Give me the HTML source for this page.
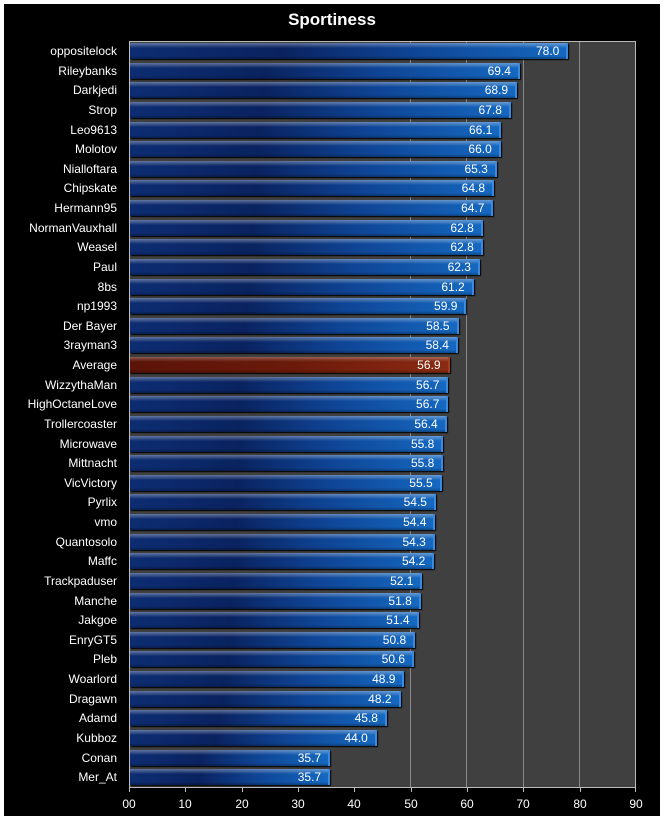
<!DOCTYPE html>
<html><head><style>
body{margin:0;background:#fff;width:664px;height:822px;position:relative;font-family:"Liberation Sans",sans-serif;overflow:hidden}
#frame{position:absolute;left:4px;top:4px;width:656px;height:812px;background:#000}
#title{position:absolute;left:0;width:664px;top:10px;text-align:center;color:#fff;font-weight:bold;font-size:17px}
#plot{position:absolute;left:129px;top:41px;width:507px;height:746px;background:#404040;border-top:1px solid #bbb;border-right:1px solid #bbb;box-sizing:border-box}
.g{position:absolute;top:0;bottom:0;width:1px;background:#8a8a8a}
#rows{position:absolute;left:0;top:41px;width:664px;height:746px;display:flex;flex-direction:column}
.r{flex:1;position:relative}
.l{position:absolute;right:547px;top:2px;color:#fff;font-size:12px;white-space:nowrap;line-height:16px}
.b{position:absolute;left:130px;top:2px;height:16px;width:calc(var(--v)*5.633px - 1px);
background:linear-gradient(to bottom,rgba(255,255,255,.35) 0,rgba(255,255,255,.15) 3px,rgba(0,0,0,0) 5px,rgba(0,0,0,0) 13px,rgba(0,0,0,.3) 16px),linear-gradient(to right,#0d2d72,#0a2360 35%,#0f4596 65%,#1568c0);box-shadow:1px 1px 1px #000;border-right:2px solid #3a8ae0;box-sizing:border-box}
.b.a{background:linear-gradient(to bottom,rgba(255,255,255,.3) 0,rgba(255,255,255,.1) 3px,rgba(0,0,0,0) 5px,rgba(0,0,0,0) 13px,rgba(0,0,0,.3) 16px),linear-gradient(to right,#5a1408,#6a1a0a 50%,#8a2a12);border-right-color:#a04020}
.b span{position:absolute;right:7px;top:1px;color:#fff;font-size:12px;line-height:15px}
.t{position:absolute;left:124px;width:5px;height:1px;background:#bbb}
#axis{position:absolute;left:129px;top:787px;width:507px;height:1px;background:#bbb}
.x{position:absolute;top:797px;color:#fff;font-size:12px;width:30px;margin-left:-15px;text-align:center}
.xt{position:absolute;top:787px;width:1px;height:5px;background:#bbb}
</style></head><body>
<div id="frame"></div>
<div id="title">Sportiness</div>
<div id="plot">
<div class="g" style="left:281px"></div><div class="g" style="left:337px"></div><div class="g" style="left:394px"></div><div class="g" style="left:450px"></div>
</div>
<div id="rows">
<div class="r"><div class="l">oppositelock</div><div class="b" style="--v:78.0"><span>78.0</span></div></div>
<div class="r"><div class="l">Rileybanks</div><div class="b" style="--v:69.4"><span>69.4</span></div></div>
<div class="r"><div class="l">Darkjedi</div><div class="b" style="--v:68.9"><span>68.9</span></div></div>
<div class="r"><div class="l">Strop</div><div class="b" style="--v:67.8"><span>67.8</span></div></div>
<div class="r"><div class="l">Leo9613</div><div class="b" style="--v:66.1"><span>66.1</span></div></div>
<div class="r"><div class="l">Molotov</div><div class="b" style="--v:66.0"><span>66.0</span></div></div>
<div class="r"><div class="l">Nialloftara</div><div class="b" style="--v:65.3"><span>65.3</span></div></div>
<div class="r"><div class="l">Chipskate</div><div class="b" style="--v:64.8"><span>64.8</span></div></div>
<div class="r"><div class="l">Hermann95</div><div class="b" style="--v:64.7"><span>64.7</span></div></div>
<div class="r"><div class="l">NormanVauxhall</div><div class="b" style="--v:62.8"><span>62.8</span></div></div>
<div class="r"><div class="l">Weasel</div><div class="b" style="--v:62.8"><span>62.8</span></div></div>
<div class="r"><div class="l">Paul</div><div class="b" style="--v:62.3"><span>62.3</span></div></div>
<div class="r"><div class="l">8bs</div><div class="b" style="--v:61.2"><span>61.2</span></div></div>
<div class="r"><div class="l">np1993</div><div class="b" style="--v:59.9"><span>59.9</span></div></div>
<div class="r"><div class="l">Der Bayer</div><div class="b" style="--v:58.5"><span>58.5</span></div></div>
<div class="r"><div class="l">3rayman3</div><div class="b" style="--v:58.4"><span>58.4</span></div></div>
<div class="r"><div class="l">Average</div><div class="b a" style="--v:56.9"><span>56.9</span></div></div>
<div class="r"><div class="l">WizzythaMan</div><div class="b" style="--v:56.7"><span>56.7</span></div></div>
<div class="r"><div class="l">HighOctaneLove</div><div class="b" style="--v:56.7"><span>56.7</span></div></div>
<div class="r"><div class="l">Trollercoaster</div><div class="b" style="--v:56.4"><span>56.4</span></div></div>
<div class="r"><div class="l">Microwave</div><div class="b" style="--v:55.8"><span>55.8</span></div></div>
<div class="r"><div class="l">Mittnacht</div><div class="b" style="--v:55.8"><span>55.8</span></div></div>
<div class="r"><div class="l">VicVictory</div><div class="b" style="--v:55.5"><span>55.5</span></div></div>
<div class="r"><div class="l">Pyrlix</div><div class="b" style="--v:54.5"><span>54.5</span></div></div>
<div class="r"><div class="l">vmo</div><div class="b" style="--v:54.4"><span>54.4</span></div></div>
<div class="r"><div class="l">Quantosolo</div><div class="b" style="--v:54.3"><span>54.3</span></div></div>
<div class="r"><div class="l">Maffc</div><div class="b" style="--v:54.2"><span>54.2</span></div></div>
<div class="r"><div class="l">Trackpaduser</div><div class="b" style="--v:52.1"><span>52.1</span></div></div>
<div class="r"><div class="l">Manche</div><div class="b" style="--v:51.8"><span>51.8</span></div></div>
<div class="r"><div class="l">Jakgoe</div><div class="b" style="--v:51.4"><span>51.4</span></div></div>
<div class="r"><div class="l">EnryGT5</div><div class="b" style="--v:50.8"><span>50.8</span></div></div>
<div class="r"><div class="l">Pleb</div><div class="b" style="--v:50.6"><span>50.6</span></div></div>
<div class="r"><div class="l">Woarlord</div><div class="b" style="--v:48.9"><span>48.9</span></div></div>
<div class="r"><div class="l">Dragawn</div><div class="b" style="--v:48.2"><span>48.2</span></div></div>
<div class="r"><div class="l">Adamd</div><div class="b" style="--v:45.8"><span>45.8</span></div></div>
<div class="r"><div class="l">Kubboz</div><div class="b" style="--v:44.0"><span>44.0</span></div></div>
<div class="r"><div class="l">Conan</div><div class="b" style="--v:35.7"><span>35.7</span></div></div>
<div class="r"><div class="l">Mer_At</div><div class="b" style="--v:35.7"><span>35.7</span></div></div>
</div>
<div id="axis"></div>
<div style="position:absolute;left:129px;top:41px;width:1px;height:746px;background:#bbb"></div>
<div class="x" style="left:129px">00</div><div class="x" style="left:185px">10</div><div class="x" style="left:242px">20</div><div class="x" style="left:298px">30</div><div class="x" style="left:354px">40</div><div class="x" style="left:411px">50</div><div class="x" style="left:467px">60</div><div class="x" style="left:523px">70</div><div class="x" style="left:580px">80</div><div class="x" style="left:636px">90</div>
<div class="xt" style="left:129px"></div><div class="xt" style="left:185px"></div><div class="xt" style="left:242px"></div><div class="xt" style="left:298px"></div><div class="xt" style="left:354px"></div><div class="xt" style="left:411px"></div><div class="xt" style="left:467px"></div><div class="xt" style="left:523px"></div><div class="xt" style="left:580px"></div><div class="xt" style="left:635px"></div>
</body></html>
